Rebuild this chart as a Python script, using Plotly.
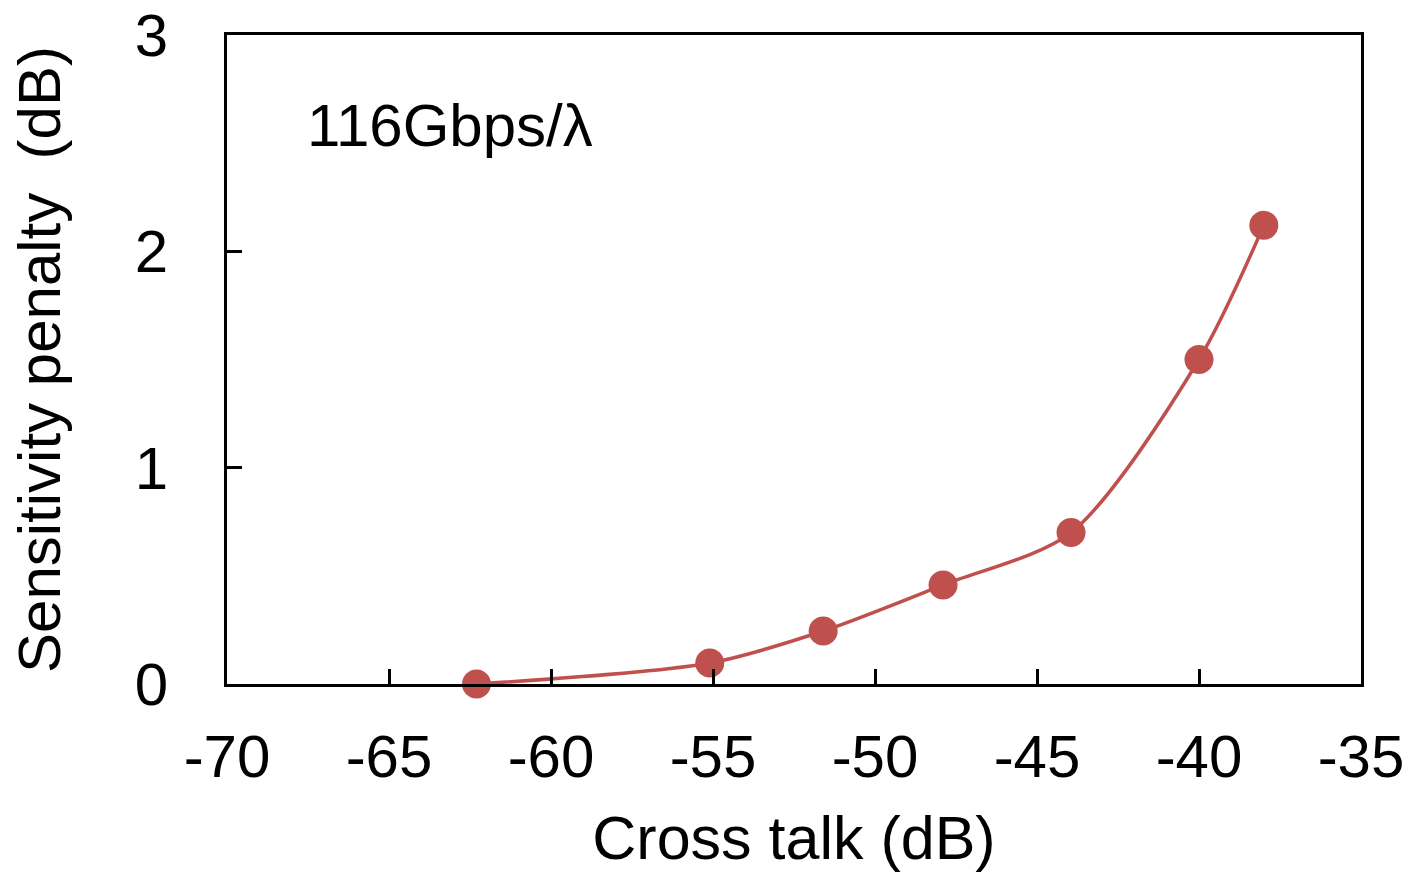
import plotly.graph_objects as go

crosstalk = [-62.3, -55.1, -51.6, -47.9, -43.95, -40.0, -38.0]
penalty = [0.0, 0.097, 0.245, 0.458, 0.70, 1.50, 2.12]
x_ticks = [-70, -65, -60, -55, -50, -45, -40, -35]
y_ticks = [0, 1, 2, 3]

red = "#C0504D"
font_family = "Liberation Sans, Arial, sans-serif"

fig = go.Figure()
fig.add_trace(go.Scatter(
    x=crosstalk, y=penalty, mode="lines+markers",
    line=dict(color=red, width=3.5, shape="spline", smoothing=0.8),
    marker=dict(color=red, size=29),
    showlegend=False, cliponaxis=False,
))

fig.update_layout(
    width=1416, height=872,
    margin=dict(l=227, r=55, t=35, b=188),
    paper_bgcolor="white", plot_bgcolor="white",
    font=dict(family=font_family, color="black", size=60),
)
fig.update_xaxes(
    range=[-70, -35], tickvals=x_ticks, ticktext=[str(v) for v in x_ticks],
    ticks="inside", ticklen=15, tickwidth=3, tickcolor="black",
    showline=True, linecolor="black", linewidth=3, mirror=True,
    showgrid=False, zeroline=False, automargin=False,
    tickfont=dict(size=60), ticklabelstandoff=18,
    title=dict(text="Cross talk (dB)", font=dict(size=61), standoff=32),
)
fig.update_yaxes(
    range=[0, 3], tickvals=y_ticks, ticktext=[str(v) for v in y_ticks],
    ticks="inside", ticklen=15, tickwidth=3, tickcolor="black",
    showline=True, linecolor="black", linewidth=3, mirror=True,
    showgrid=False, zeroline=False, automargin=False,
    tickfont=dict(size=60), ticklabelstandoff=44,
    title=dict(text="Sensitivity penalty  (dB)", font=dict(size=60), standoff=55),
)
fig.add_annotation(
    x=0.069, y=0.86, xref="paper", yref="paper", xanchor="left", yanchor="middle",
    text="116Gbps/λ", showarrow=False, font=dict(size=60),
)
fig.write_html("out.html", config={"displayModeBar": False},
               post_script="document.body.style.margin='0';")
